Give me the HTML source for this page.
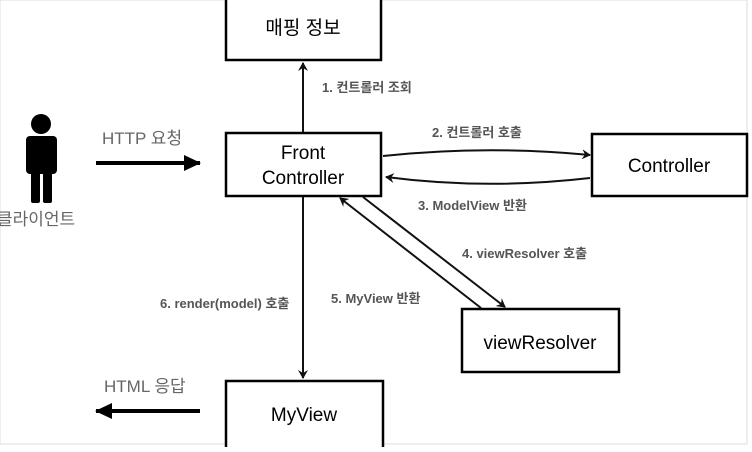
<!DOCTYPE html>
<html><head><meta charset="utf-8"><style>
body{margin:0;background:#fff;}
.t{font-family:"Liberation Sans","Noto Sans CJK KR",sans-serif;}
</style></head><body>
<svg width="752" height="447" viewBox="0 0 752 447" xmlns="http://www.w3.org/2000/svg" class="t">
<defs>
<marker id="a" markerWidth="10" markerHeight="10" refX="8" refY="5" orient="auto" markerUnits="userSpaceOnUse"><path d="M0,0 L9,5 L0,10 L3,5 Z" fill="#111"/></marker>
<marker id="b" markerWidth="18" markerHeight="16" refX="16" refY="8" orient="auto" markerUnits="userSpaceOnUse"><path d="M0,0 L17,8 L0,16 Z" fill="#000"/></marker>
</defs>
<rect x="0" y="0" width="747" height="444" fill="none" stroke="#ddd" stroke-width="1"/>
<g fill="#fff" stroke="#000" stroke-width="2.5">
<rect x="226" y="-5" width="155" height="65"/>
<rect x="226" y="133" width="155" height="63"/>
<rect x="592" y="134" width="155" height="62"/>
<rect x="462" y="309" width="157" height="63"/>
<rect x="226" y="381" width="157" height="68"/>
</g>
<g font-size="19" text-anchor="middle" fill="#000">
<text x="303" y="34">매핑 정보</text>
<text x="303" y="159">Front</text>
<text x="303" y="184">Controller</text>
<text x="669" y="172">Controller</text>
<text x="540" y="349">viewResolver</text>
<text x="304" y="421">MyView</text>
</g>
<g stroke="#111" stroke-width="2" fill="none">
<line x1="303" y1="132" x2="303" y2="63" marker-end="url(#a)"/>
<line x1="303" y1="197" x2="303" y2="378" marker-end="url(#a)"/>
<path d="M383,156 Q486,145 590,155" marker-end="url(#a)"/>
<path d="M590,178 Q486,190 386,177" marker-end="url(#a)"/>
<line x1="363" y1="197" x2="505" y2="307" marker-end="url(#a)"/>
<line x1="481" y1="308" x2="340" y2="198" marker-end="url(#a)"/>
</g>
<g stroke="#000" stroke-width="4">
<line x1="96" y1="163" x2="200" y2="163" marker-end="url(#b)"/>
<line x1="200" y1="411" x2="96" y2="411" marker-end="url(#b)"/>
</g>
<g fill="#555" font-size="13" font-weight="bold">
<text x="322" y="92">1. 컨트롤러 조회</text>
<text x="432" y="137">2. 컨트롤러 호출</text>
<text x="418" y="210">3. ModelView 반환</text>
<text x="462" y="258">4. viewResolver 호출</text>
<text x="331" y="303">5. MyView 반환</text>
<text x="160" y="308">6. render(model) 호출</text>
</g>
<g fill="#666" font-size="17">
<text x="102" y="144">HTTP 요청</text>
<text x="104" y="392">HTML 응답</text>
<text x="-3" y="225">클라이언트</text>
</g>
<g fill="#000">
<circle cx="41" cy="124" r="10"/>
<rect x="26" y="136" width="31" height="38" rx="4"/>
<rect x="31" y="160" width="9" height="43" rx="2"/>
<rect x="43" y="160" width="9" height="43" rx="2"/>
</g>
</svg>
</body></html>
